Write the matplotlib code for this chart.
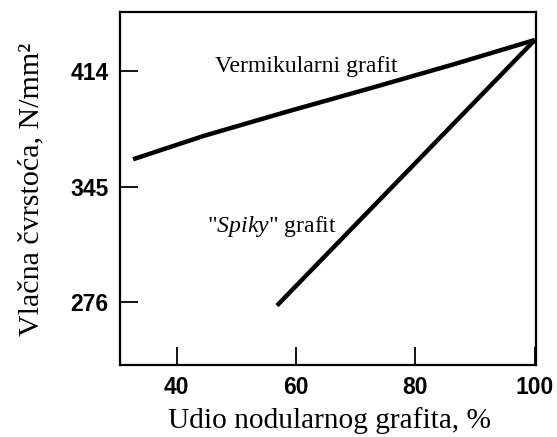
import matplotlib
matplotlib.use("Agg")
import matplotlib.pyplot as plt

# udio nodularnog grafita (%) i vlacna cvrstoca (N/mm2)
verm_x = [32.7, 44.5, 58.5, 72.4, 86.4, 100]
verm_y = [361.3, 375.2, 389.7, 403.6, 417.9, 432.4]
spiky_x = [56.8, 100]
spiky_y = [274.1, 432.4]

xticks = [40, 60, 80, 100]
yticks = [276, 345, 414]

serif = "Liberation Serif"
sans = "Liberation Sans"
plt.rcParams["mathtext.fontset"] = "custom"
plt.rcParams["mathtext.it"] = "Liberation Serif:italic"
plt.rcParams["mathtext.rm"] = "Liberation Serif"

fig = plt.figure(figsize=(5.57, 4.37), dpi=100)
ax = fig.add_axes([0.2154, 0.1648, 0.7469, 0.8078])

ax.plot(verm_x, verm_y, color="black", lw=3.2, solid_capstyle="butt")
ax.plot(spiky_x, spiky_y, color="black", lw=3.2, solid_capstyle="butt")

ax.set_xlim(30.5, 100.2)
ax.set_ylim(238.7, 449.1)
ax.set_xticks(xticks)
ax.set_yticks(yticks)
ax.tick_params(direction="in", length=13, width=1.3, pad=8,
               labelsize=16.5, labelcolor="black")
for lab in ax.get_xticklabels() + ax.get_yticklabels():
    lab.set_family(sans)
    lab.set_weight("bold")
for s in ax.spines.values():
    s.set_linewidth(1.6)

ax.text(46.4, 413.5, "Vermikularni grafit", fontsize=17.1,
        family=serif, va="baseline", ha="left")
ax.text(45.0, 318.2, '"$\\mathit{Spiky}$" grafit', fontsize=17.1,
        family=serif, va="baseline", ha="left")

fig.text(329 / 557, 1 - 421 / 437, "Udio nodularnog grafita, %",
         fontsize=21.2, family=serif, ha="center", va="center")
fig.text(31 / 557, 1 - 189 / 437, "Vlačna čvrstoća, N/mm²",
         fontsize=21.6, family=serif, ha="center", va="center", rotation=90)

fig.savefig("out.png", dpi=100)
